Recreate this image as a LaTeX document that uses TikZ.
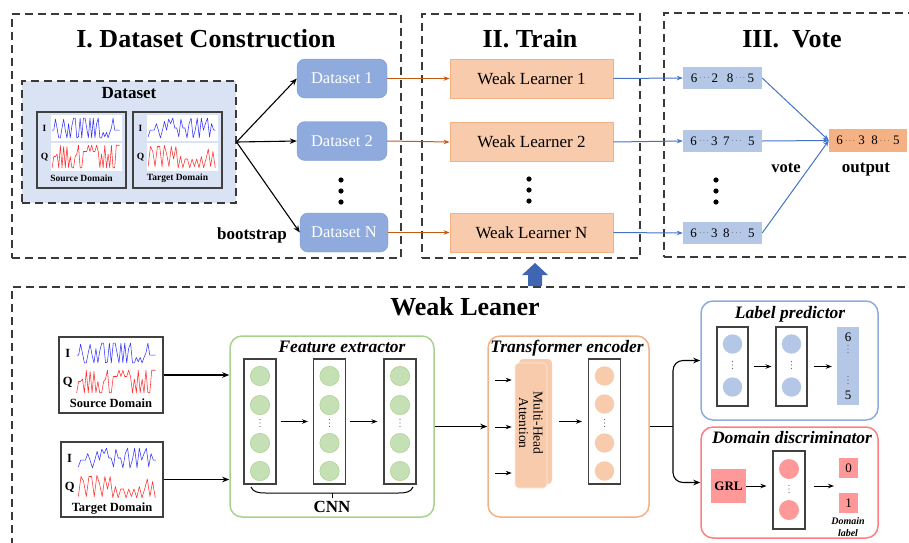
\documentclass[tikz,border=0pt]{standalone}
\usepackage{fontspec}
\setmainfont{Liberation Serif}
\usetikzlibrary{arrows.meta}
\definecolor{dashgray}{HTML}{3A3A3A}
\definecolor{framegray}{HTML}{404040}
\definecolor{dsfill}{HTML}{DAE3F3}
\definecolor{dsnode}{HTML}{8FAADC}
\definecolor{dsnodeb}{HTML}{7A99D2}
\definecolor{wlfill}{HTML}{F8CBAD}
\definecolor{wlborder}{HTML}{F4B183}
\definecolor{orarrow}{HTML}{C55A11}
\definecolor{votefill}{HTML}{B4C7E7}
\definecolor{bluearrow}{HTML}{4472C4}
\definecolor{uparrow}{HTML}{3F66B3}
\definecolor{outfill}{HTML}{F4B183}
\definecolor{grfill}{HTML}{C5E0B4}
\definecolor{grborder}{HTML}{A9D18E}
\definecolor{redfill}{HTML}{FF9999}
\definecolor{redborder}{HTML}{FF7C80}
\definecolor{lpborder}{HTML}{8FAADC}
\definecolor{waveblue}{HTML}{3535FF}
\definecolor{wavered}{HTML}{FF3030}
\newcommand\fsz[1]{\fontsize{#1}{#1}\selectfont}
\newcommand\cd{\raisebox{2.6pt}{\fontsize{7}{7}\selectfont$\cdots$}}
\newcommand\wavedraw[6]{\draw[#1, line width=0.55pt, line join=round] (17,{#2+#5*#3}) \foreach \v [count=\i] in {#6} { -- ({17+\i*#4},{#2+\v*#3}) };}
\newcommand\srcwaves{%
 \wavedraw{waveblue}{5}{22}{1.85}{0.6}{0.6,0.1,0.5,0.95,0.95,0.5,0.1,0.6,0.95,0.3,0.95,0.4,0.05,0.05,0.95,0.9,0.05,0.95,0.05,0.05,0.5,0.95,0.05,0.95,0.05,0.95,0.3,0.05,0.95,0.95,0.7,0.9,0.7,0.95,0.7,0.5,0.05,0.6,0.6,0.6,0.6}%
 \wavedraw{wavered}{32}{25}{1.85}{0.95}{0.5,0.5,0.4,0.95,0.05,0.95,0.1,0.95,0.1,0.95,0.5,0.95,0.95,0.5,0.4,0.05,0.95,0.95,0.3,0.3,0.3,0.05,0.3,0.05,0.3,0.3,0.05,0.3,0.95,0.4,0.95,0.05,0.95,0.4,0.95,0.05,0.95,0.95,0.05,0.05,0.05}}
\newcommand\tgtwaves{%
 \wavedraw{waveblue}{5}{22}{2.3}{0.9}{0.6,0.6,0.6,0.3,0.6,0.95,0.6,0.2,0.6,0.1,0.3,0.05,0.5,0.5,0.9,0.1,0.5,0.5,0.95,0.3,0.05,0.95,0.6,0.05,0.95,0.05,0.6,0.3,0.05,0.9,0.3,0.6,0.6}%
 \wavedraw{wavered}{32}{25}{2.6}{0.9}{0.1,0.3,0.9,0.1,0.1,0.9,0.05,0.4,0.9,0.1,0.6,0.1,0.95,0.5,0.95,0.6,0.6,0.95,0.6,0.9,0.6,0.95,0.5,0.95,0.6,0.2,0.9,0.3,0.95}}
\newcommand\domaincontent[7]{%
 \begin{scope}[shift={(#1,#2)}, xscale=#3]
  \fill[white] (16,3) rectangle (95,29);
  \fill[white] (16,31) rectangle (95,59);
  #6
  \node[font=\bfseries\fsz{#5}] (#7I) at (8.5,16) {I};
  \node[font=\bfseries\fsz{#5}] (#7Q) at (8.5,45) {Q};
  \node[font=\bfseries\fsz{#5}] (#7L) at (50,66.5) {#4};
 \end{scope}}
\newcommand\tinydots[3]{\fill[#3] (#1,{#2-3.5}) circle (0.6) (#1,#2) circle (0.6) (#1,{#2+3.5}) circle (0.6);}
\begin{document}
\begin{tikzpicture}[x=1pt,y=-1pt,
  dashbox/.style={draw=dashgray, line width=1.1pt, dash pattern=on 8pt off 5pt, inner sep=0pt},
  arr/.style={-{Stealth[length=7pt,width=5.5pt]}, line width=1.1pt},
  sarr/.style={-{Stealth[length=6pt,width=4.5pt]}, line width=1pt},
  oarr/.style={-{Stealth[length=6pt,width=4.5pt]}, line width=1pt, draw=orarrow, color=orarrow},
  barr/.style={-{Stealth[length=6pt,width=4.5pt]}, line width=1pt, draw=bluearrow, color=bluearrow},
  dsnodest/.style={draw=dsnodeb, fill=dsnode, rounded corners=8pt, text=white, font=\fsz{16.5}, minimum height=39, inner sep=0pt},
  wlst/.style={draw=wlborder, fill=wlfill, line width=0.8pt, font=\fsz{17}, minimum width=163, minimum height=39, inner sep=0pt},
  votest/.style={fill=votefill, font=\fsz{13}, minimum width=79, minimum height=22, inner sep=0pt},
  domframe/.style={draw=framegray, line width=1.2pt, inner sep=0pt},
  colst/.style={draw=framegray, line width=1.1pt, inner sep=0pt, minimum width=32},
  modbox/.style={rounded corners=12pt, line width=1.5pt, inner sep=0pt},
  ititle/.style={font=\bfseries\itshape\fsz{17.5}, anchor=base},
  btitle/.style={font=\bfseries\fsz{26}, anchor=base},
  blabel/.style={font=\bfseries\fsz{17}, anchor=base},
]
\clip (0,0) rectangle (909,542);
% ---------- section frames ----------
\node[dashbox, minimum width=389, minimum height=244] (secI) at (206.5,136) {};
\node[dashbox, minimum width=218, minimum height=244] (secII) at (531,136) {};
\node[dashbox, minimum width=251, minimum height=244] (secIII) at (789.5,135) {};
\node[dashbox, minimum width=908, minimum height=273] (secW) at (466,423.5) {};
\node[btitle] (t1) at (206,47) {I. Dataset Construction};
\node[btitle] (t2) at (530,47) {II. Train};
\node[btitle] (t3) at (792,47) {III.~~Vote};
\node[btitle] (t4) at (465,315) {Weak Leaner};
% ---------- dataset container ----------
\node[dashbox, fill=dsfill, minimum width=214, minimum height=122] (dsbox) at (129,142) {};
\node[font=\bfseries\fsz{17}, anchor=base] (dstitle) at (129,98) {Dataset};
\node[domframe, minimum width=89, minimum height=76] (srcA) at (81.5,150) {};
\node[domframe, minimum width=89, minimum height=76] (tgtA) at (177.5,150) {};
\domaincontent{37}{112}{0.89}{Source Domain}{9.5}{\srcwaves}{sa}
\domaincontent{133}{112}{0.89}{Target Domain}{9.5}{\tgtwaves}{ta}
% ---------- datasets ----------
\node[dsnodest, minimum width=90] (d1) at (342,78.5) {Dataset 1};
\node[dsnodest, minimum width=90] (d2) at (342,141) {Dataset 2};
\node[dsnodest, minimum width=88] (dN) at (344,232.5) {Dataset N};
\fill (341,180) circle (2.6) (341,191) circle (2.6) (341,202) circle (2.6);
\draw[arr] (dsbox.east) -- (d1.west);
\draw[arr] (dsbox.east) -- (d2.west);
\draw[arr] (dsbox.east) -- (dN.west);
\node[blabel] (boot) at (252,239) {bootstrap};
% ---------- weak learners ----------
\node[wlst] (w1) at (531.5,78.5) {Weak Learner 1};
\node[wlst] (w2) at (531.5,142) {Weak Learner 2};
\node[wlst] (wN) at (531.5,232.5) {Weak Learner N};
\fill (529,179) circle (2.6) (529,190) circle (2.6) (529,201) circle (2.6);
\draw[oarr] (d1.east) -- (w1.west);
\draw[oarr] (d2.east) -- (w2.west);
\draw[oarr] (dN.east) -- (wN.west);
% ---------- vote ----------
\node[votest] (v1) at (722.5,78) {6\,\cd\,2\ \ \,8\,\cd\,5};
\node[votest] (v2) at (722.5,141) {6\,\cd\,3\ \,7\,\cd\ \ 5};
\node[votest] (vN) at (722.5,233) {6\,\cd\,3\ \,8\,\cd\ \ 5};
\fill (716,180) circle (2.6) (716,191) circle (2.6) (716,202) circle (2.6);
\node[votest, fill=outfill, minimum width=78, minimum height=23] (out) at (868,140.5) {6\,\cd\ 3\ \ 8\,\cd\ 5};
\draw[barr] (w1.east) -- (v1.west);
\draw[barr] (w2.east) -- (v2.west);
\draw[barr] (wN.east) -- (vN.west);
\draw[barr] (v1.east) -- (out.west);
\draw[barr] (v2.east) -- (out.west);
\draw[barr] (vN.east) -- (out.west);
\node[blabel, font=\bfseries\fsz{16.5}] (votel) at (786,172) {vote};
\node[blabel] (outl) at (866,172) {output};
% ---------- up arrow ----------
\fill[uparrow] (528,286) -- (528,275) -- (522,275) -- (535,263) -- (548,275) -- (542,275) -- (542,286) -- cycle;
% ---------- bottom: inputs ----------
\node[domframe, minimum width=104, minimum height=76] (srcB) at (111,375) {};
\node[domframe, minimum width=102, minimum height=75] (tgtB) at (112,479.5) {};
\domaincontent{59}{337}{1.04}{Source Domain}{12.5}{\srcwaves}{sb}
\domaincontent{61}{442}{1.02}{Target Domain}{12.5}{\tgtwaves}{tb}
% ---------- feature extractor ----------
\node[modbox, draw=grborder, minimum width=204, minimum height=181] (fe) at (332,426.5) {};
\node[ititle] (fet) at (342,352) {Feature extractor};
\draw[arr] (srcB.east) -- (srcB.east -| fe.west);
\draw[arr] (tgtB.east) -- (tgtB.east -| fe.west);
\foreach \cx/\nm in {260/fc1, 329.5/fc2, 400/fc3}{
  \node[colst, minimum height=125] (\nm) at (\cx,421.5) {};
  \foreach \cy in {376,405,443,471}{ \fill[grfill, draw=grborder, line width=0.5pt] (\cx,\cy) circle (9.7); }
  \tinydots{\cx}{423}{black!60}
}
\draw[sarr, shorten <=4pt, shorten >=5pt] (fc1.east) -- (fc2.west);
\draw[sarr, shorten <=4pt, shorten >=6pt] (fc2.east) -- (fc3.west);
\draw[line width=1pt] (251,487) .. controls (253,492) and (258,493) .. (266,493) -- (398,493) .. controls (406,493) and (411,492) .. (413,487);
\draw[line width=1pt] (332,493) -- (332,498);
\node[blabel] (cnn) at (332,512) {CNN};
% ---------- transformer encoder ----------
\node[modbox, draw=wlborder, minimum width=161, minimum height=181] (te) at (568.5,426.5) {};
\node[ititle] (tet) at (567,352) {Transformer encoder};
\draw[arr] (fe.east) -- (te.west);
\node[fill=wlfill, rounded corners=4pt, minimum width=33, minimum height=125, inner sep=0pt] (attB) at (535.5,421.5) {};
\node[fill=wlfill, draw=white!70!wlborder, line width=0.6pt, rounded corners=4pt, minimum width=32, minimum height=125, inner sep=0pt] (attF) at (531,425.5) {};
\node[rotate=-90, align=center, font=\fsz{13.5}] (attt) at (531,423) {Multi-Head\\[1pt]Attention};
\coordinate (in1) at (495,380);
\coordinate (in2) at (495,427);
\coordinate (in3) at (495,473);
\draw[sarr, shorten >=3pt] (in1) -- (in1 -| attF.west);
\draw[sarr, shorten >=3pt] (in2) -- (in2 -| attF.west);
\draw[sarr, shorten >=3pt] (in3) -- (in3 -| attF.west);
\node[colst, minimum height=125] (tc) at (604.5,421.5) {};
\foreach \cy in {376,404,443,471}{ \fill[wlfill] (604.5,\cy) circle (9.7); }
\tinydots{604.5}{423}{black!60}
\draw[sarr, shorten <=12pt, shorten >=6pt] (attF.east |- tc.west) -- (tc.west);
% ---------- label predictor ----------
\node[modbox, draw=lpborder, minimum width=177, minimum height=119] (lp) at (789.5,360.5) {};
\node[ititle] (lpt) at (790,318) {Label predictor};
\foreach \cx/\nm in {732.5/lc1, 791.5/lc2}{
  \node[colst, minimum width=31, minimum height=79] (\nm) at (\cx,366.5) {};
  \foreach \cy in {344,387}{ \fill[votefill] (\cx,\cy) circle (9.7); }
  \tinydots{\cx}{365}{black!60}
}
\node[fill=votefill, minimum width=22, minimum height=78, inner sep=0pt] (lpbar) at (848,366) {};
\node[font=\fsz{13}] (lp6) at (848,337) {6};
\node[font=\fsz{13}] (lp5) at (848,395) {5};
\tinydots{848}{349}{black!60}
\tinydots{848}{380}{black!60}
\draw[sarr, shorten <=5pt, shorten >=4pt] (lc1.east) -- (lc2.west);
\draw[sarr, shorten <=6pt, shorten >=5pt] (lc2.east) -- (lc2.east -| lpbar.west);
% ---------- domain discriminator ----------
\node[modbox, draw=redborder, minimum width=177, minimum height=111] (dd) at (789.5,482.5) {};
\node[ititle] (ddt) at (792,443) {Domain discriminator};
\node[fill=redfill, minimum width=35, minimum height=34, inner sep=0pt, font=\bfseries\fsz{13}] (grl) at (728.5,486) {GRL};
\node[colst, minimum height=78] (dc) at (789,490) {};
\foreach \cy in {469,510}{ \fill[redfill] (789,\cy) circle (10); }
\tinydots{789}{489}{black!60}
\draw[sarr, shorten >=6pt] (grl.east) -- (grl.east -| dc.west);
\node[fill=redfill, minimum width=19, minimum height=20, inner sep=0pt, font=\fsz{13}] (b0) at (848.5,468) {0};
\node[fill=redfill, minimum width=19, minimum height=20, inner sep=0pt, font=\fsz{13}] (b1) at (848.5,503) {1};
\coordinate (dl) at (839,486);
\draw[sarr, shorten <=8pt, shorten >=5pt] (dc.east |- dl) -- (dl);
\node[font=\bfseries\itshape\fsz{10}] (dlab1) at (848,521) {Domain};
\node[font=\bfseries\itshape\fsz{10}] (dlab2) at (848,533) {label};
% ---------- branching ----------
\coordinate (br) at (673,426.5);
\draw[line width=1.1pt] (te.east) -- (br);
\draw[arr, rounded corners=10pt] (br) |- (lp.west);
\draw[arr, rounded corners=10pt] (br) |- (dd.west);
\end{tikzpicture}
\end{document}
